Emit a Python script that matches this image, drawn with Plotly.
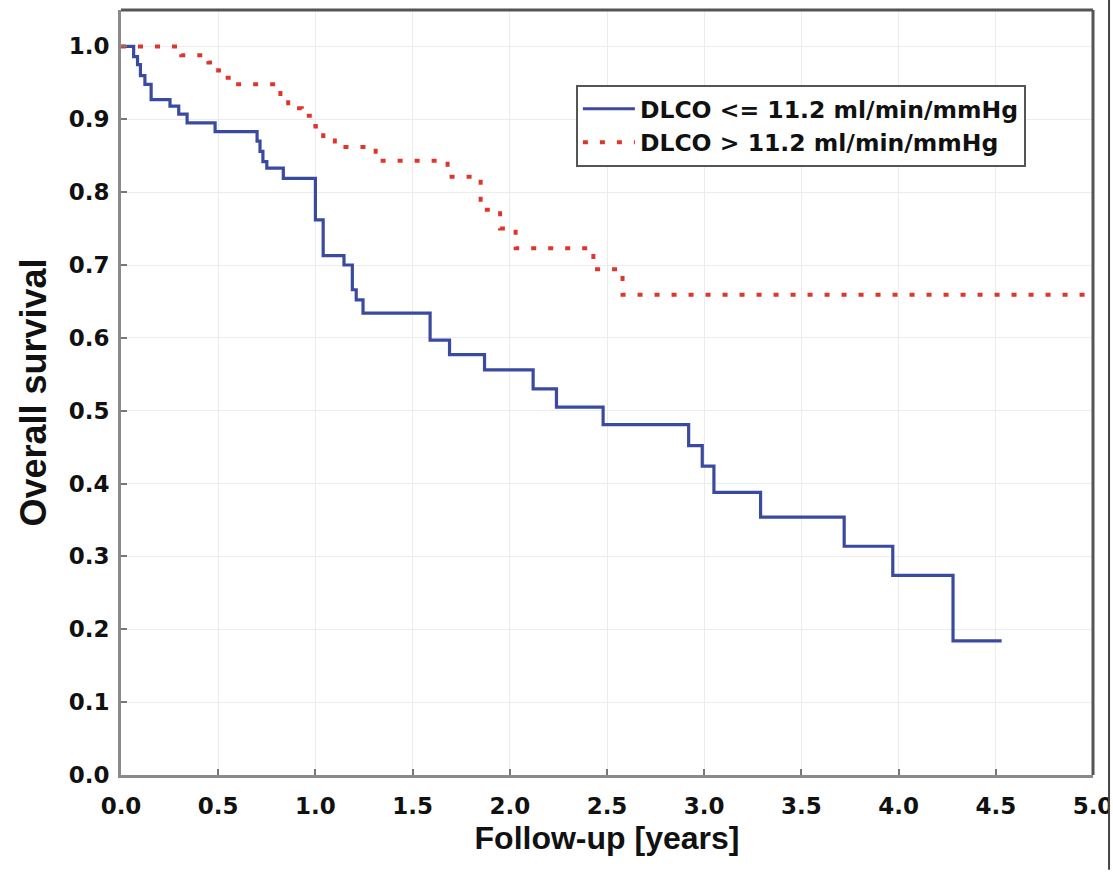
import plotly.graph_objects as go

# Kaplan-Meier steps
blue_times = [0.0, 0.065, 0.085, 0.10, 0.123, 0.155, 0.252, 0.297, 0.34, 0.484,
              0.70, 0.715, 0.73, 0.75, 0.835, 1.0, 1.04, 1.147, 1.19, 1.21, 1.245,
              1.59, 1.69, 1.87, 2.12, 2.24, 2.48, 2.92, 2.99, 3.05, 3.29, 3.72,
              3.97, 4.28, 4.53]
blue_surv = [1.0, 0.986, 0.975, 0.96, 0.948, 0.927, 0.918, 0.907, 0.895, 0.883,
             0.870, 0.856, 0.842, 0.833, 0.819, 0.762, 0.713, 0.700, 0.666, 0.652, 0.634,
             0.597, 0.577, 0.556, 0.530, 0.505, 0.481, 0.452, 0.424, 0.388, 0.354, 0.314,
             0.274, 0.184, 0.184]

red_times = [0.0, 0.31, 0.45, 0.50, 0.53, 0.58, 0.82, 0.86, 0.93, 1.0, 1.04, 1.1,
             1.31, 1.68, 1.85, 1.95, 2.03, 2.43, 2.58, 5.0]
red_surv = [1.0, 0.988, 0.978, 0.967, 0.957, 0.948, 0.93, 0.915, 0.905, 0.89, 0.877,
            0.862, 0.843, 0.821, 0.776, 0.75, 0.723, 0.694, 0.659, 0.659]

x_ticks = [0.0, 0.5, 1.0, 1.5, 2.0, 2.5, 3.0, 3.5, 4.0, 4.5, 5.0]
x_ticklabels = ["0.0", "0.5", "1.0", "1.5", "2.0", "2.5", "3.0", "3.5", "4.0", "4.5", "5.0"]
y_ticks = [0.0, 0.1, 0.2, 0.3, 0.4, 0.5, 0.6, 0.7, 0.8, 0.9, 1.0]
y_ticklabels = ["0.0", "0.1", "0.2", "0.3", "0.4", "0.5", "0.6", "0.7", "0.8", "0.9", "1.0"]

series_names = ["DLCO <= 11.2 ml/min/mmHg", "DLCO > 11.2 ml/min/mmHg"]

FONT = "Liberation Sans, Arial, sans-serif"
WIDE = "DejaVu Sans, Verdana, sans-serif"

fig = go.Figure()
fig.add_trace(go.Scatter(
    x=blue_times, y=blue_surv, mode="lines", line_shape="hv",
    name=series_names[0],
    line=dict(color="#3a4b9f", width=3.2),
))
fig.add_trace(go.Scatter(
    x=red_times, y=red_surv, mode="lines", line_shape="hv",
    name=series_names[1],
    line=dict(color="#e0352c", width=4, dash="5px,12px"),
))

fig.update_layout(
    width=1113, height=874,
    margin=dict(l=121, r=20, t=10, b=99, autoexpand=False),
    paper_bgcolor="white", plot_bgcolor="white",
    font=dict(family=FONT, color="#111111", weight="bold"),
    showlegend=True,
    legend=dict(
        x=0.468, y=0.902, xanchor="left", yanchor="top",
        bgcolor="white", bordercolor="#555555", borderwidth=2,
        font=dict(family=WIDE, size=23.5, color="#111111", weight="bold"),
        tracegroupgap=0, itemwidth=52,
    ),
    xaxis=dict(
        range=[0, 5], tickvals=x_ticks, ticktext=x_ticklabels, automargin=False,
        showgrid=True, gridcolor="#ececec", gridwidth=1, zeroline=False,
        showline=True, linecolor="#8a8a8a", linewidth=3,
        ticks="inside", ticklen=6, tickcolor="#777777", tickwidth=2,
        tickfont=dict(family=WIDE, size=23, color="#111111", weight="bold"),
        ticklabelstandoff=8, ticklabeloverflow="allow",
        title=dict(text="Follow-up [years]", standoff=10,
                   font=dict(family=FONT, size=32, color="#111111", weight="bold")),
    ),
    yaxis=dict(
        range=[0, 1.05], tickvals=y_ticks, ticktext=y_ticklabels, automargin=False,
        showgrid=True, gridcolor="#ececec", gridwidth=1, zeroline=False,
        showline=True, linecolor="#8a8a8a", linewidth=3,
        ticks="inside", ticklen=6, tickcolor="#777777", tickwidth=2,
        tickfont=dict(family=WIDE, size=23, color="#111111", weight="bold"),
        ticklabelstandoff=4,
        title=dict(text="Overall survival", standoff=12,
                   font=dict(family=FONT, size=36, color="#111111", weight="bold")),
    ),
    shapes=[
        dict(type="line", xref="paper", yref="paper", x0=0, x1=1, y0=1, y1=1,
             line=dict(color="#555555", width=3), layer="above"),
        dict(type="line", xref="paper", yref="paper", x0=1, x1=1, y0=0, y1=1,
             line=dict(color="#555555", width=3), layer="above"),
        dict(type="rect", xref="paper", yref="paper", x0=1.0175, x1=1.03,
             y0=-0.1, y1=-0.005, line=dict(width=0), fillcolor="white", layer="above"),
        dict(type="line", xref="paper", yref="paper", x0=1.0165, x1=1.0165,
             y0=1.013, y1=-0.124, line=dict(color="#444444", width=2), layer="above"),
    ],
)

fig.write_html("out.html")
